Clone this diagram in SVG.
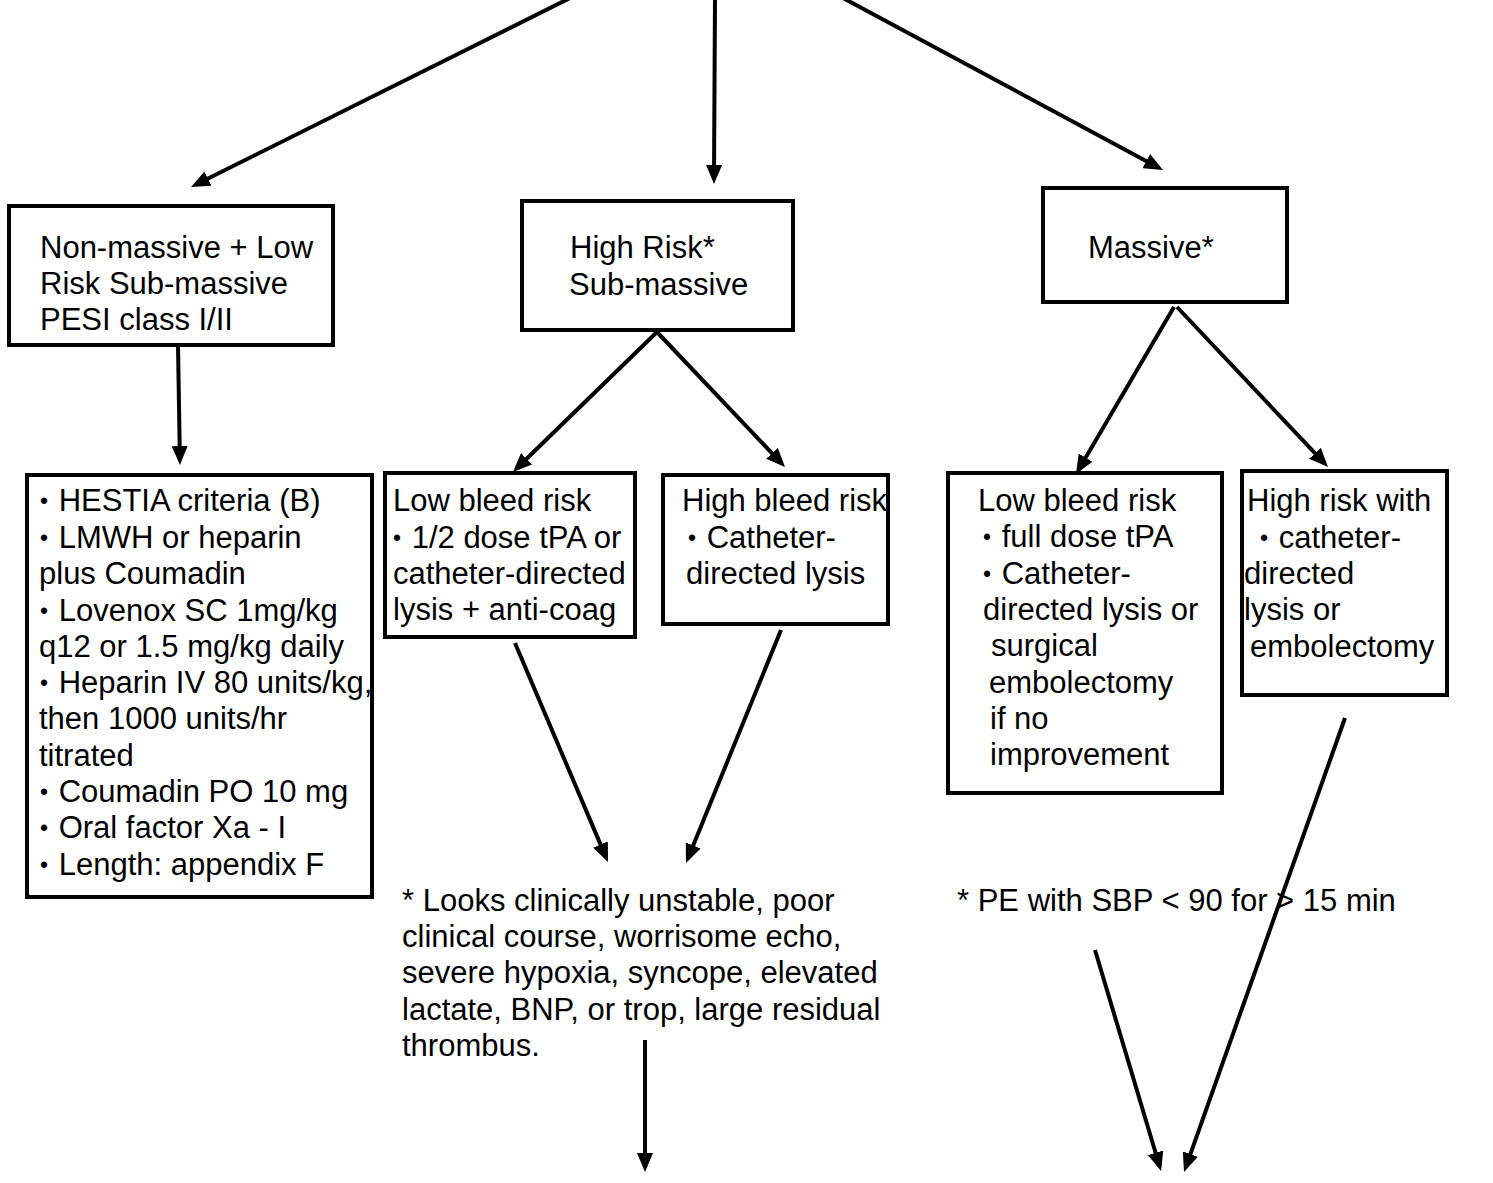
<svg xmlns="http://www.w3.org/2000/svg" width="1493" height="1183" viewBox="0 0 1493 1183">
<style>
  .box { fill: #ffffff; stroke: #000000; stroke-width: 4; }
  .t { font-family: "Liberation Sans", Arial, Helvetica, sans-serif; font-size: 31px; fill: #000000; }
  .b { font-size: 23px; }
  .c { stroke: #000000; stroke-width: 4; fill: none; marker-end: url(#ah); }
</style>
<defs>
  <marker id="ah" markerUnits="userSpaceOnUse" markerWidth="19" markerHeight="16" refX="14" refY="8" orient="auto">
    <path d="M0,0 L19,8 L0,16 z" fill="#000000"/>
  </marker>
</defs>
<rect width="1493" height="1183" fill="#ffffff"/>
<g id="connectors">
  <line class="c" x1="570" y1="-2" x2="195.5" y2="184.8"/>
  <line class="c" x1="715" y1="-2" x2="714" y2="179"/>
  <line class="c" x1="843" y1="-2" x2="1158.6" y2="167.7"/>
  <line class="c" x1="178" y1="345" x2="179.9" y2="460"/>
  <line class="c" x1="657" y1="332" x2="516.6" y2="468.5"/>
  <line class="c" x1="657" y1="332" x2="781.6" y2="463.4"/>
  <line class="c" x1="1174" y1="307" x2="1078.5" y2="469.7"/>
  <line class="c" x1="1177" y1="307" x2="1324.6" y2="463.4"/>
  <line class="c" x1="515" y1="643" x2="606" y2="857.4"/>
  <line class="c" x1="781" y1="630" x2="687.9" y2="858.4"/>
  <line class="c" x1="645" y1="1040" x2="645" y2="1167"/>
  <line class="c" x1="1095" y1="950" x2="1159.6" y2="1166.2"/>
  <line class="c" x1="1345" y1="718" x2="1185.7" y2="1167.3"/>
</g>
<g id="node-nonmassive">
  <rect class="box" x="9" y="206" width="324" height="139"/>
  <text class="t" x="40" y="258">Non-massive + Low</text>
  <text class="t" x="40" y="294">Risk Sub-massive</text>
  <text class="t" x="40" y="330">PESI class I/II</text>
</g>
<g id="node-highrisk">
  <rect class="box" x="522" y="201" width="271" height="129"/>
  <text class="t" x="570" y="258">High Risk*</text>
  <text class="t" x="569" y="295">Sub-massive</text>
</g>
<g id="node-massive">
  <rect class="box" x="1043" y="188" width="244" height="114"/>
  <text class="t" x="1088" y="258">Massive*</text>
</g>
<g id="node-hestia">
  <rect class="box" x="27" y="475" width="345" height="422"/>
  <text class="t" x="40" y="511"><tspan class="b" dy="-2">•</tspan><tspan dx="2" dy="2"> HESTIA criteria (B)</tspan></text>
  <text class="t" x="40" y="548"><tspan class="b" dy="-2">•</tspan><tspan dx="2" dy="2"> LMWH or heparin</tspan></text>
  <text class="t" x="39" y="584">plus Coumadin</text>
  <text class="t" x="40" y="621"><tspan class="b" dy="-2">•</tspan><tspan dx="2" dy="2"> Lovenox SC 1mg/kg</tspan></text>
  <text class="t" x="39" y="657">q12 or 1.5 mg/kg daily</text>
  <text class="t" x="40" y="693"><tspan class="b" dy="-2">•</tspan><tspan dx="2" dy="2"> Heparin IV 80 units/kg,</tspan></text>
  <text class="t" x="39" y="729">then 1000 units/hr</text>
  <text class="t" x="39" y="766">titrated</text>
  <text class="t" x="40" y="802"><tspan class="b" dy="-2">•</tspan><tspan dx="2" dy="2"> Coumadin PO 10 mg</tspan></text>
  <text class="t" x="40" y="838"><tspan class="b" dy="-2">•</tspan><tspan dx="2" dy="2"> Oral factor Xa - I</tspan></text>
  <text class="t" x="40" y="875"><tspan class="b" dy="-2">•</tspan><tspan dx="2" dy="2"> Length: appendix F</tspan></text>
</g>
<g id="node-sub-low">
  <rect class="box" x="385" y="473" width="250" height="164"/>
  <text class="t" x="393" y="511">Low bleed risk</text>
  <text class="t" x="393" y="548"><tspan class="b" dy="-2">•</tspan><tspan dx="2" dy="2"> 1/2 dose tPA or</tspan></text>
  <text class="t" x="393" y="584">catheter-directed</text>
  <text class="t" x="393" y="620">lysis + anti-coag</text>
</g>
<g id="node-sub-high">
  <rect class="box" x="663" y="475" width="225" height="149"/>
  <text class="t" x="682" y="511">High bleed risk</text>
  <text class="t" x="688" y="548"><tspan class="b" dy="-2">•</tspan><tspan dx="2" dy="2"> Catheter-</tspan></text>
  <text class="t" x="686" y="584">directed lysis</text>
</g>
<g id="node-mas-low">
  <rect class="box" x="948" y="473" width="274" height="320"/>
  <text class="t" x="978" y="511">Low bleed risk</text>
  <text class="t" x="983" y="547"><tspan class="b" dy="-2">•</tspan><tspan dx="2" dy="2"> full dose tPA</tspan></text>
  <text class="t" x="983" y="584"><tspan class="b" dy="-2">•</tspan><tspan dx="2" dy="2"> Catheter-</tspan></text>
  <text class="t" x="983" y="620">directed lysis or</text>
  <text class="t" x="991" y="656">surgical</text>
  <text class="t" x="989" y="693">embolectomy</text>
  <text class="t" x="990" y="729">if no</text>
  <text class="t" x="990" y="765">improvement</text>
</g>
<g id="node-mas-high">
  <rect class="box" x="1242" y="471" width="205" height="224"/>
  <text class="t" x="1247" y="511">High risk with</text>
  <text class="t" x="1260" y="548"><tspan class="b" dy="-2">•</tspan><tspan dx="2" dy="2"> catheter-</tspan></text>
  <text class="t" x="1244" y="584">directed</text>
  <text class="t" x="1244" y="620">lysis or</text>
  <text class="t" x="1250" y="657">embolectomy</text>
</g>
<g id="note-submassive">
  <text class="t" x="402" y="911">* Looks clinically unstable, poor</text>
  <text class="t" x="402" y="947">clinical course, worrisome echo,</text>
  <text class="t" x="402" y="983">severe hypoxia, syncope, elevated</text>
  <text class="t" x="402" y="1020">lactate, BNP, or trop, large residual</text>
  <text class="t" x="402" y="1056">thrombus.</text>
</g>
<g id="note-massive">
  <text class="t" x="957" y="911">* PE with SBP &lt; 90 for &gt; 15 min</text>
</g>
</svg>
